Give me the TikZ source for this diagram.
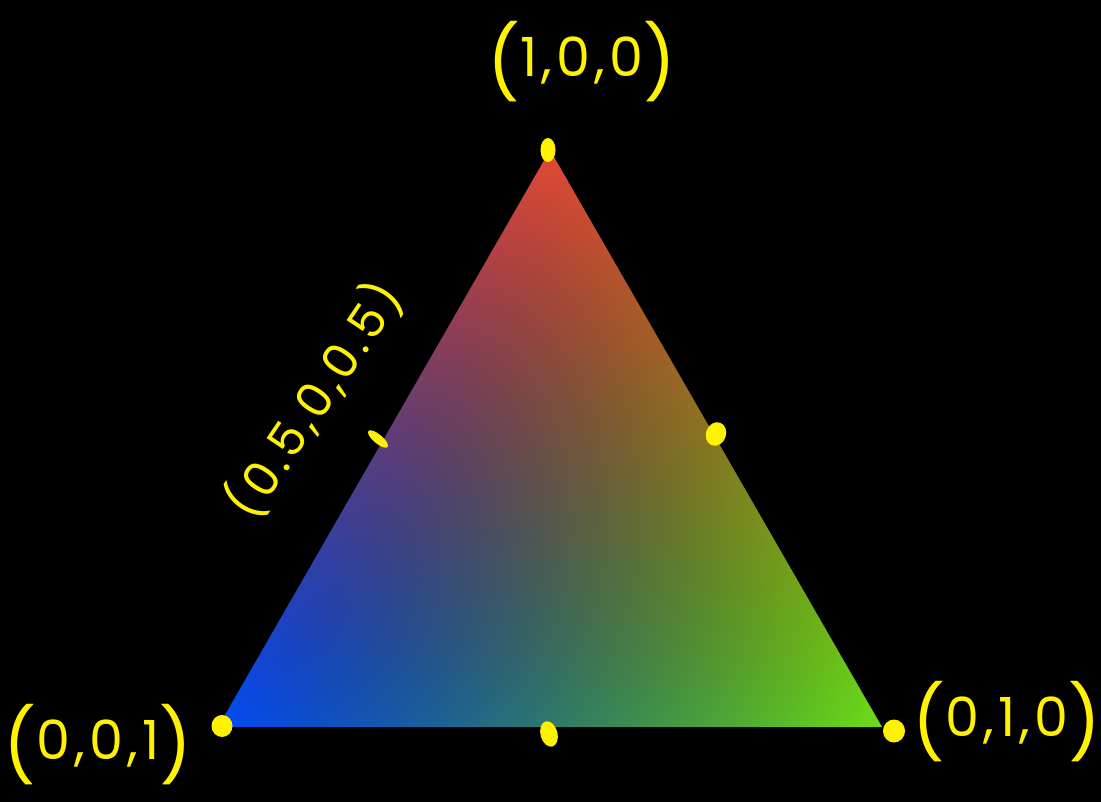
\documentclass[tikz,border=0pt]{standalone}
\usepackage{fontspec}
\newfontfamily\handfont[LetterSpace=8]{Poppins}
\usetikzlibrary{shapes.geometric}
\pgfdeclarefunctionalshading{bary}{\pgfpoint{-50bp}{-50bp}}{\pgfpoint{50bp}{50bp}}{}{
 25 add 50 div
 exch 25 div
 1 index 1 exch sub
 2 copy add 2 div
 3 1 roll exch sub 2 div
 dup 0 lt {pop 0} if dup 1 gt {pop 1} if 1.3 exp
 3 1 roll
 dup 0 lt {pop 0} if dup 1 gt {pop 1} if 1.3 exp
 3 1 roll
 dup 0 lt {pop 0} if dup 1 gt {pop 1} if 1.3 exp
 3 1 roll
 2 index 0.890 mul 2 index 0.431 mul add 1 index 0.020 mul add
 3 index 0.290 mul 3 index 0.870 mul add 2 index 0.300 mul add
 4 index 0.216 mul 4 index 0.100 mul add 3 index 0.960 mul add
 6 3 roll pop pop pop
}
\newcommand\hbigp[1]{\raisebox{-12pt}{\fontsize{72}{72}\selectfont #1}}
\begin{document}
\begin{tikzpicture}[x=1pt,y=-1pt,
  hlabel/.style={text=yellow, inner sep=0pt, font=\handfont\fontsize{54}{54}\selectfont},
  hdot/.style={fill=yellow, draw=none, ellipse, inner sep=0pt}]
\fill[black] (0,0) rectangle (1101,802);
\useasboundingbox (0,0) rectangle (1101,802);
\coordinate (T) at (550,150);
\coordinate (L) at (218,727);
\coordinate (R) at (882,727);
\shade[shading=bary] (T) -- (R) -- (L) -- cycle;
% points
\node[hdot, minimum width=15pt, minimum height=24pt] (pT) at (548,150) {};
\node[hdot, minimum width=21pt, minimum height=22pt] (pL) at (222,726) {};
\node[hdot, minimum width=22pt, minimum height=23pt] (pR) at (894,731) {};
\node[hdot, minimum width=17pt, minimum height=26pt, rotate=15] (pB) at (549,734) {};
\node[hdot, minimum width=20pt, minimum height=24pt, rotate=-20] (pRM) at (716,434) {};
\node[hdot, minimum width=25pt, minimum height=9pt, rotate=-40] (pLM) at (378,439) {};
% labels
\node[hlabel] (lT) at (582,62) {\hbigp{(}1,0,0\hbigp{)}};
\node[hlabel] (lL) at (98,745) {\hbigp{(}0,0,1\hbigp{)}};
\node[hlabel] (lR) at (1007,722) {\hbigp{(}0,1,0\hbigp{)}};
\node[hlabel, font=\handfont\fontsize{48}{48}\selectfont, rotate=56] (lM) at (314,400) {(0.5,0,0.5)};
\end{tikzpicture}
\end{document}
